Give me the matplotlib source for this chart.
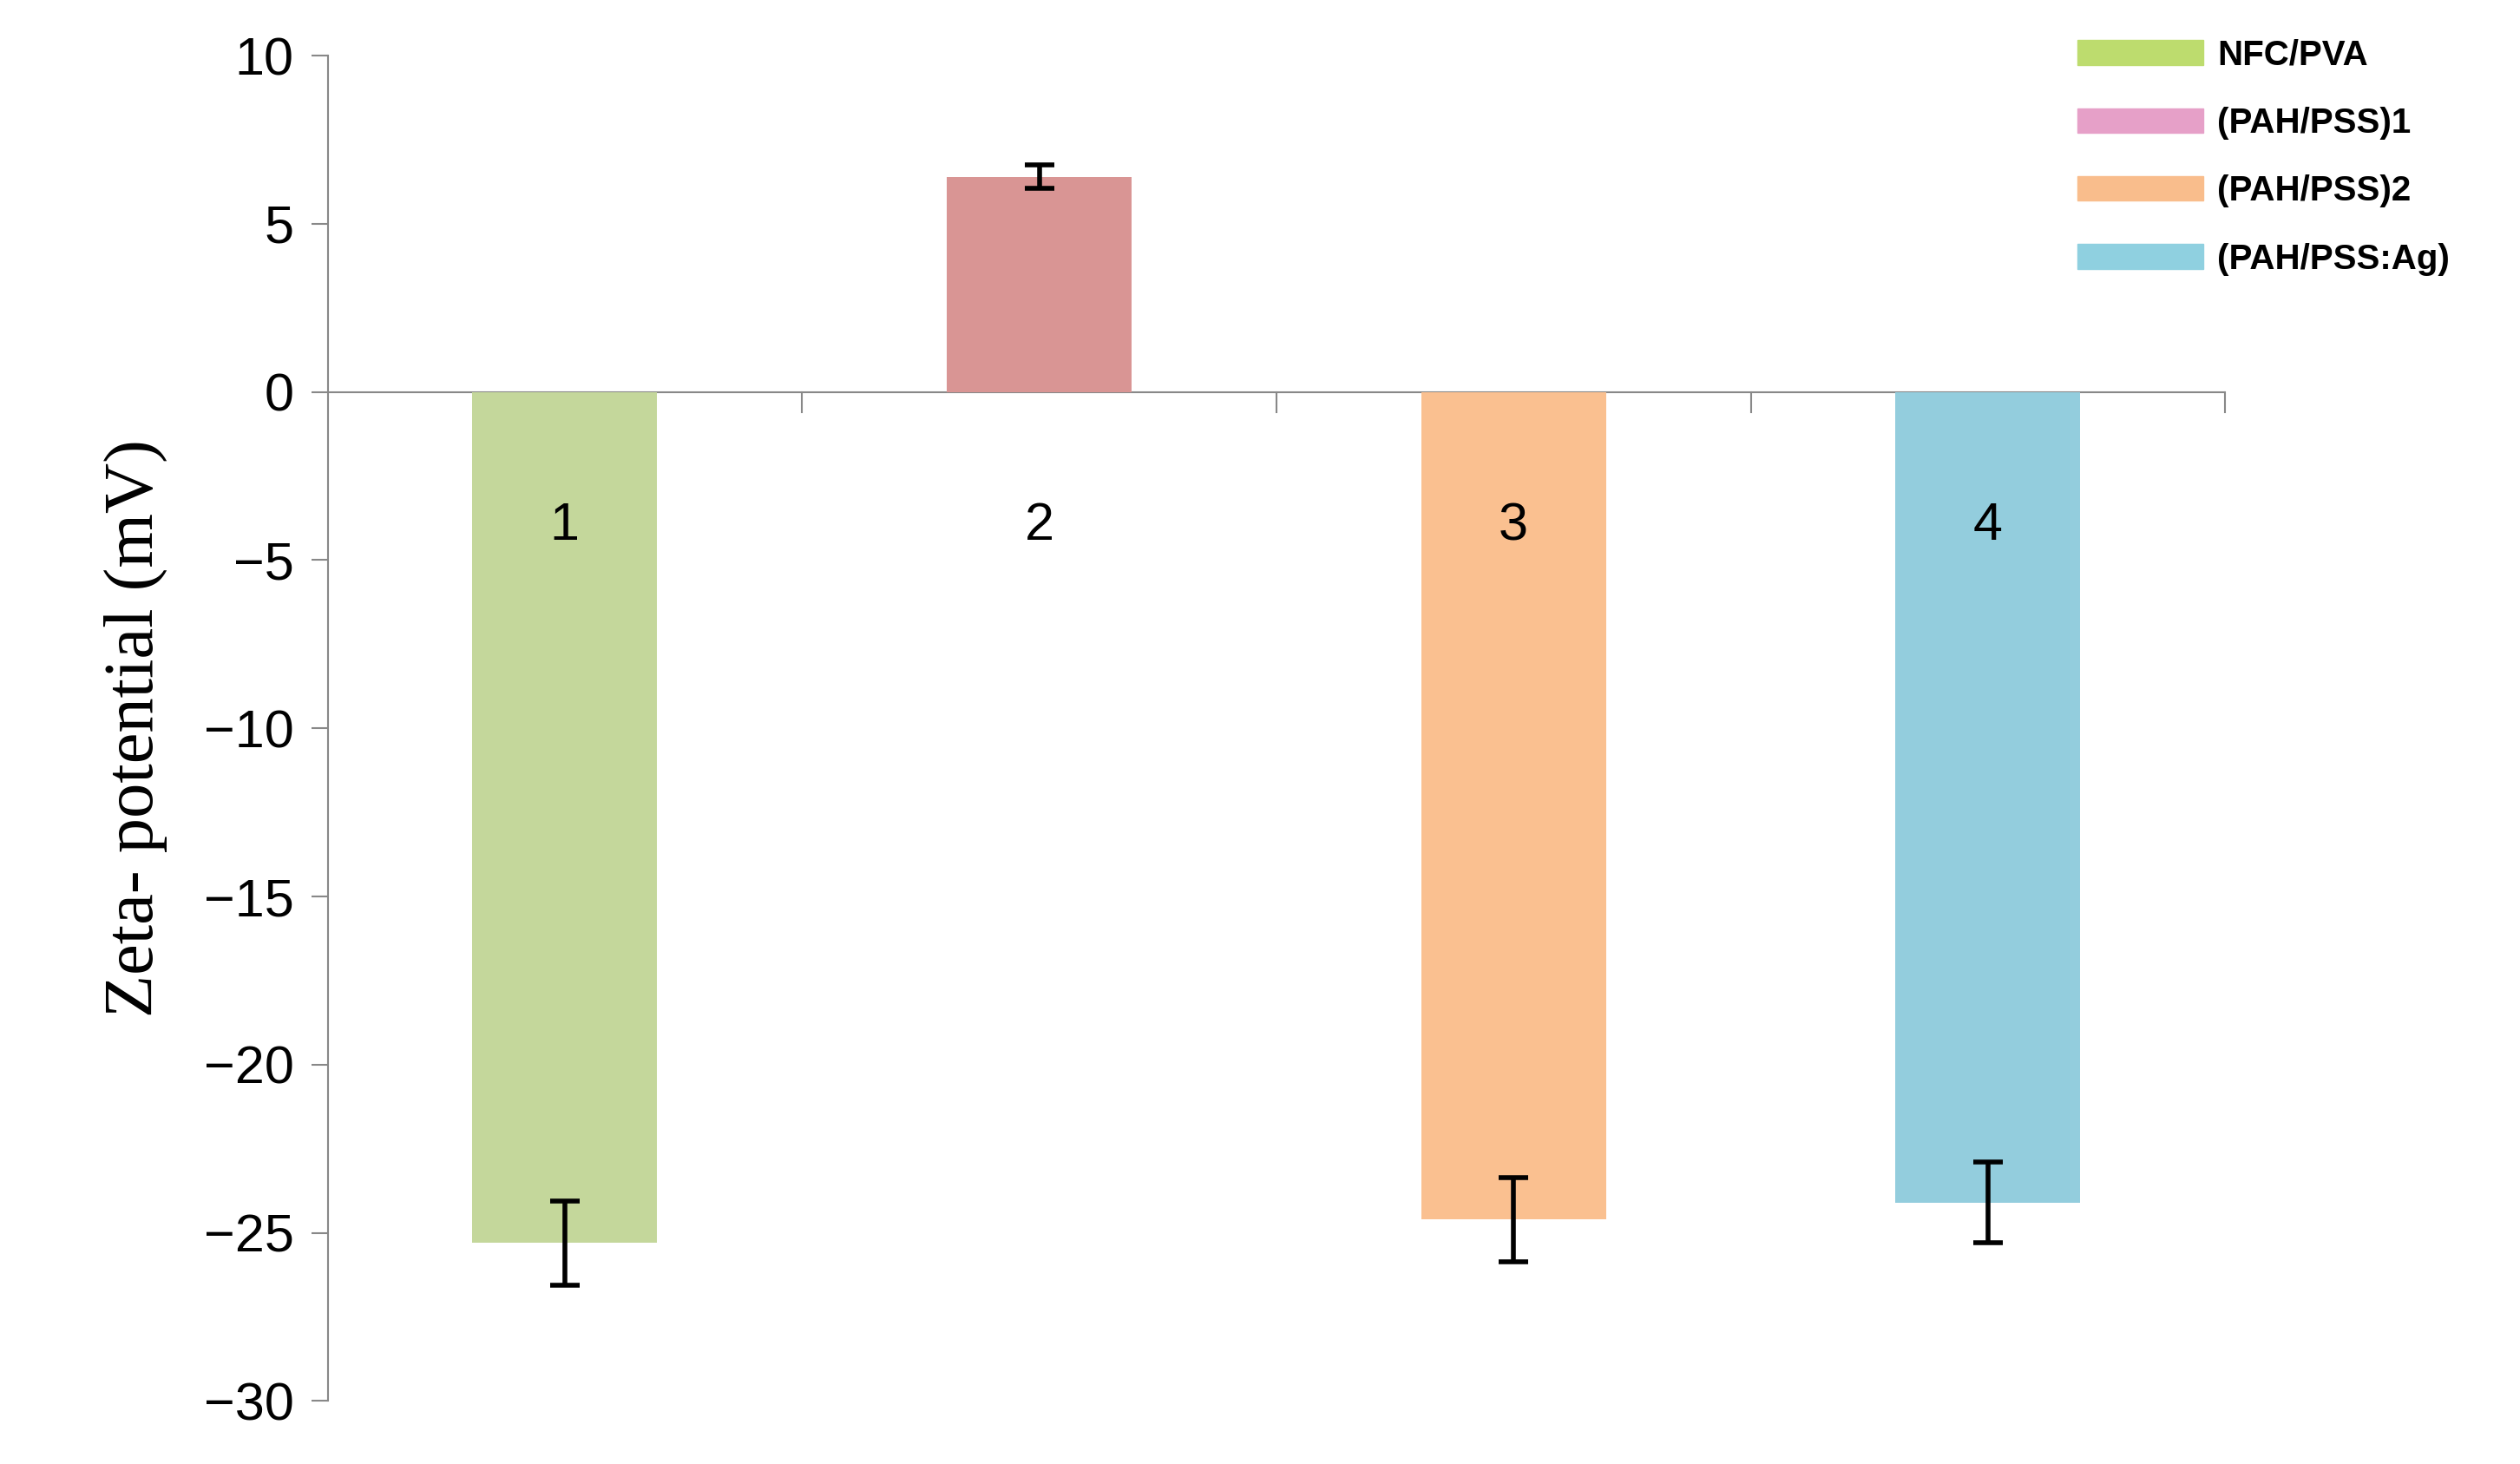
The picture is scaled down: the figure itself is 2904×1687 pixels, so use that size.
import numpy as np
import matplotlib.pyplot as plt
from matplotlib.patches import Patch

categories = ['1', '2', '3', '4']
values = [-25.3, 6.4, -24.6, -24.1]
errors = [1.25, 0.35, 1.25, 1.2]
bar_colors = ['#c4d79b', '#d99594', '#fac090', '#93cddd']
legend_labels = ['NFC/PVA', '(PAH/PSS)1', '(PAH/PSS)2', '(PAH/PSS:Ag)']
legend_colors = ['#bddc6e', '#e6a0c8', '#f9bd8c', '#8fd0e0']

fig = plt.figure(figsize=(29.04, 16.87), dpi=100)
ax = fig.add_axes([0.130, 0.043, 0.753, 0.919])

x = np.arange(len(categories))
ax.bar(x, values, width=0.39, color=bar_colors, zorder=2)
ax.errorbar(x, values, yerr=errors, fmt='none', ecolor='black',
            elinewidth=4, capsize=12, capthick=4, zorder=3)

ax.set_xlim(-0.5, 3.5)
ax.set_ylim(-30, 10)
ax.set_yticks(np.arange(-30, 11, 5))
ax.tick_params(axis='y', labelsize=44, length=14, width=1.5, color='#888888', pad=14)
ax.set_xticks([])
for s in ['top', 'right', 'bottom']:
    ax.spines[s].set_visible(False)
ax.spines['left'].set_color('#888888')
ax.spines['left'].set_linewidth(1.5)

# zero line with category-boundary ticks
ax.axhline(0, color='#888888', lw=1.5, zorder=1)
for b in np.arange(0.5, 3.6, 1.0):
    ax.plot([b, b], [0, -0.6], color='#888888', lw=1.5, clip_on=False)

for xi, lab in zip(x, categories):
    ax.text(xi, -4, lab, ha='center', va='center', fontsize=44,
            family='Liberation Sans')

ax.set_ylabel('Zeta- potential (mV)', family='Liberation Serif', fontsize=58, labelpad=30)
for t in ax.get_yticklabels():
    t.set_family('Liberation Sans')

handles = [Patch(color=c, label=l) for c, l in zip(legend_colors, legend_labels)]
fig.legend(handles=handles, loc='upper left', bbox_to_anchor=(0.812, 0.995),
           frameon=False, prop={'family': 'Liberation Sans', 'weight': 'bold', 'size': 29},
           handlelength=3.6, handleheight=0.7, labelspacing=1.0, handletextpad=0.4)

fig.savefig('out.png', dpi=100)
